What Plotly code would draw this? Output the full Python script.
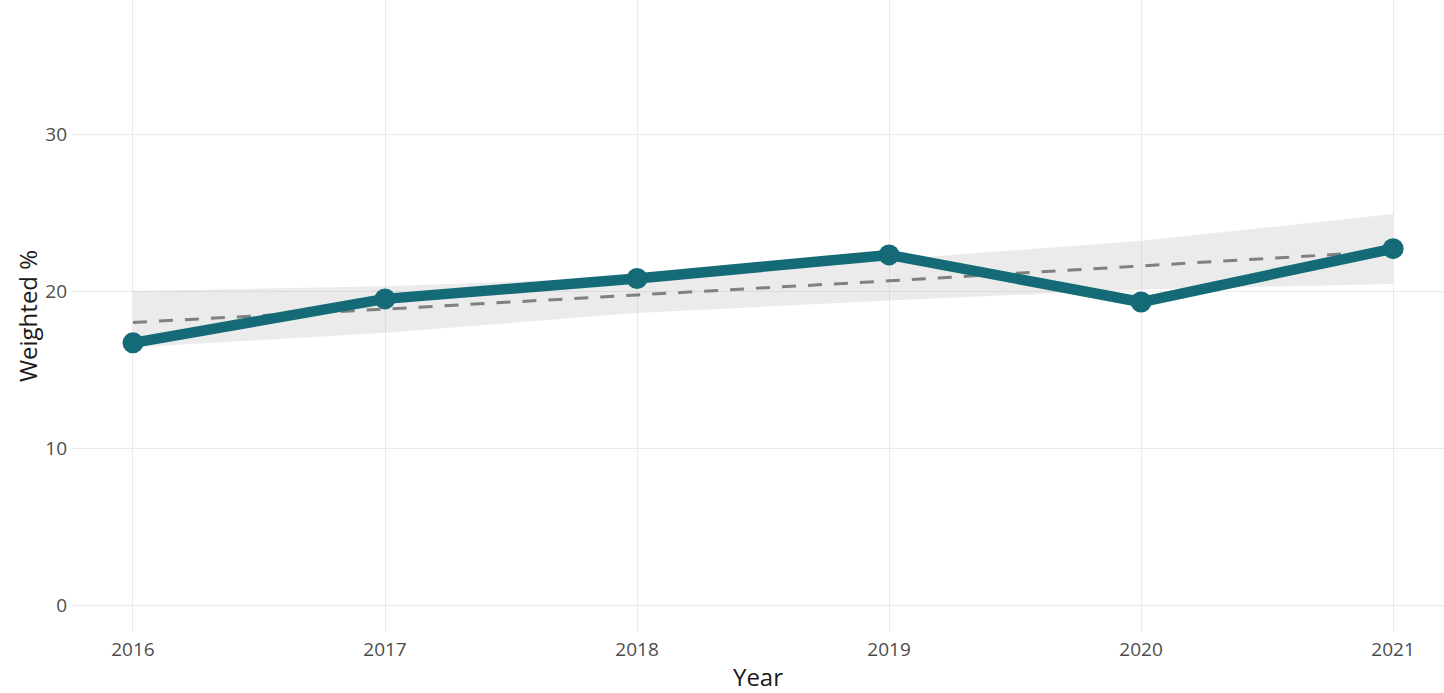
import plotly.graph_objects as go

years = [2016, 2017, 2018, 2019, 2020, 2021]
weighted_pct = [16.7, 19.5, 20.8, 22.3, 19.3, 22.7]
trend = [18.0, 18.85, 19.75, 20.65, 21.6, 22.55]
band_lower = [16.4, 17.35, 18.6, 19.4, 20.1, 20.45]
band_upper = [20.0, 20.3, 20.9, 22.0, 23.2, 24.9]
y_ticks = [0, 10, 20, 30]

TEAL = "#146b77"
FONT = "Open Sans"

fig = go.Figure()
fig.add_trace(go.Scatter(x=years, y=band_lower, mode="lines",
                         line=dict(width=0, color="rgba(0,0,0,0)"),
                         showlegend=False, hoverinfo="skip"))
fig.add_trace(go.Scatter(x=years, y=band_upper, mode="lines", fill="tonexty",
                         fillcolor="rgba(153,153,153,0.2)",
                         line=dict(width=0, color="rgba(0,0,0,0)"),
                         showlegend=False, hoverinfo="skip"))
fig.add_trace(go.Scatter(x=years, y=trend, mode="lines",
                         line=dict(color="#808080", width=3, dash="14px,12px"),
                         showlegend=False))
fig.add_trace(go.Scatter(x=years, y=weighted_pct, mode="lines+markers",
                         line=dict(color=TEAL, width=10.5),
                         marker=dict(color=TEAL, size=21),
                         showlegend=False))

fig.update_layout(
    width=1444, height=693,
    margin=dict(l=72, r=0, t=0, b=61),
    paper_bgcolor="white", plot_bgcolor="white",
    font=dict(family=FONT, color="#4d4d4d", size=19),
    xaxis=dict(
        range=[2015.758, 2021.202], tickmode="array", tickvals=years,
        ticktext=[str(y) for y in years],
        showgrid=True, gridcolor="#ebebeb", gridwidth=1.2,
        zeroline=False, showline=False, ticks="",
        ticklabelstandoff=4,
        title=dict(text="Year", font=dict(family=FONT, size=24, color="#1a1a1a"),
                   standoff=13),
        automargin=False,
    ),
    yaxis=dict(
        range=[-1.72, 38.54], tickmode="array", tickvals=y_ticks,
        ticktext=[str(v) for v in y_ticks],
        showgrid=True, gridcolor="#ebebeb", gridwidth=1.2,
        zeroline=False, showline=False, ticks="",
        ticklabelstandoff=4,
        title=dict(text="Weighted %", font=dict(family=FONT, size=24, color="#1a1a1a"),
                   standoff=0),
        automargin=False,
    ),
)

fig.write_html("out.html", config={"displayModeBar": False},
               post_script="document.body.style.margin='0px';document.body.style.padding='0px';")
